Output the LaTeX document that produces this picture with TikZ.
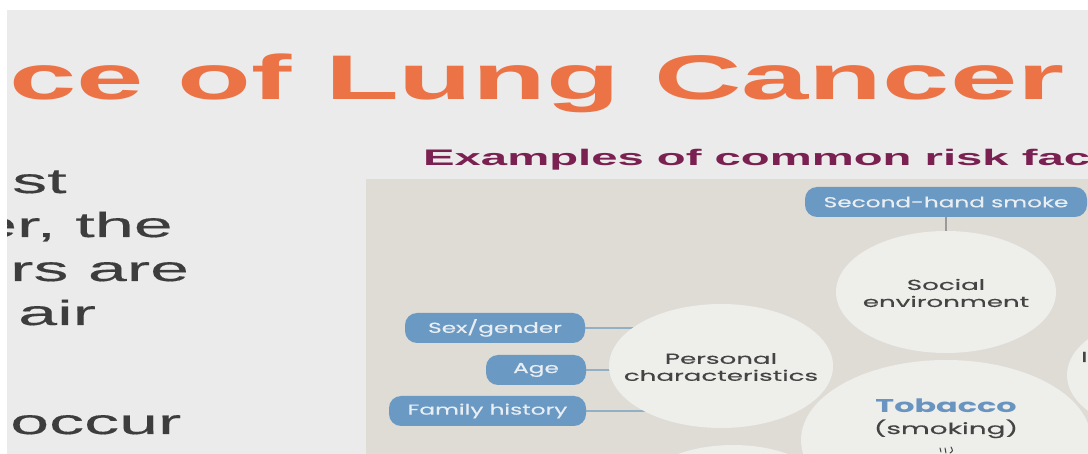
\documentclass[tikz,border=0pt]{standalone}
\usepackage{fontspec}
\setmainfont{Liberation Sans}
\newfontfamily\wideA[FakeStretch=1.92]{Liberation Sans}
\newfontfamily\wideB[FakeStretch=2.1]{Liberation Sans}
\newfontfamily\wideC[FakeStretch=2.0, FakeBold=0.3]{Liberation Sans}
\newfontfamily\diag[FakeStretch=1.8, FakeBold=0.4]{Poppins}
\newfontfamily\diagmed[FakeStretch=1.72]{Poppins}
\newfontfamily\diagpill[FakeStretch=1.6, FakeBold=0.3]{Poppins}
\usetikzlibrary{shapes.geometric}
\pgfdeclarelayer{back}
\pgfdeclarelayer{panel}
\pgfdeclarelayer{links}
\pgfsetlayers{back,panel,links,main}
\definecolor{bggrey}{HTML}{EBEBEB}
\definecolor{panelc}{HTML}{DFDCD5}
\definecolor{circfill}{HTML}{EEEEEB}
\definecolor{pillblue}{HTML}{6A9AC3}
\definecolor{pilltext}{HTML}{E9EEF3}
\definecolor{linkc}{HTML}{93AFC6}
\definecolor{vlinkc}{HTML}{9A9A9A}
\definecolor{titleorange}{HTML}{EC7346}
\definecolor{plum}{HTML}{7A2152}
\definecolor{darktext}{HTML}{3D3D3D}
\definecolor{circtext}{HTML}{444444}
\definecolor{tobblue}{HTML}{6994C0}
\tikzset{
  bodytext/.style={anchor=base west, inner sep=0, text=darktext, font=\wideC\fontsize{35}{35}\selectfont},
  pill/.style={rectangle, rounded corners=12pt, fill=pillblue, text=pilltext, font=\diagpill\fontsize{14.5}{14.5}\selectfont, minimum height=30pt, inner sep=0},
  blob/.style={ellipse, fill=circfill, inner sep=0},
  ctext/.style={align=center, inner sep=0, text=circtext, font=\diag\fontsize{14.5}{17}\selectfont},
  link/.style={draw=linkc, line width=1.2pt},
  vlink/.style={draw=vlinkc, line width=1.4pt},
  smokeline/.style={draw=circtext, line width=1pt, line cap=round}
}
\begin{document}
\begin{tikzpicture}[x=1pt,y=-1pt]
\useasboundingbox (0,0) rectangle (1088,454);
\begin{pgfonlayer}{back}
\fill[white] (0,0) rectangle (1088,454);
\fill[bggrey] (7,10) rectangle (1088,454);
\end{pgfonlayer}
\begin{scope}
\clip (7,10) rectangle (1088,454);
% title
\node[anchor=base west, inner sep=0, text=titleorange, font=\wideA\bfseries\fontsize{63}{63}\selectfont] (title) at (9,100) {ce of Lung Cancer};
% subtitle
\node[anchor=base west, inner sep=0, text=plum, font=\wideB\bfseries\fontsize{22.5}{22.5}\selectfont] (sub) at (423,166) {Examples of common risk fac};
% left text
\node[bodytext] (l1) at (12,193) {st};
\node[bodytext] (l2) at (-22,237) {er, the};
\node[bodytext] (l3) at (10,281) {rs are};
\node[bodytext] (l4) at (18,325) {air};
\node[bodytext] (l5) at (10,434) {occur};
\end{scope}
% panel
\begin{pgfonlayer}{panel}
\fill[panelc] (366,179) rectangle (1088,454);
\end{pgfonlayer}
% circles
\node[blob, minimum width=224pt, minimum height=124pt] (pc) at (721,366) {};
\node[blob, minimum width=220pt, minimum height=122pt] (soc) at (946,292) {};
\node[blob, minimum width=290pt, minimum height=160pt] (tob) at (946,440) {};
\node[blob, minimum width=220pt, minimum height=122pt] (rc) at (1177,375) {};
\node[blob, minimum width=200pt, minimum height=110pt] (bc) at (733,500) {};
% circle texts
\node[ctext] (pct) at (721,367) {Personal\\characteristics};
\node[ctext] (soct) at (946,293) {Social\\environment};
\node[anchor=base, inner sep=0, text=tobblue, font=\diagmed\bfseries\fontsize{18.5}{18.5}\selectfont] (tobt) at (946,413) {Tobacco};
\node[anchor=base, inner sep=0, text=circtext, font=\diag\fontsize{15.5}{15.5}\selectfont] (smk) at (946,434) {(smoking)};
\node[anchor=base west, inner sep=0, text=circtext, font=\diag\fontsize{14.5}{14.5}\selectfont] (rct) at (1081,362) {I};
% smoke marks of the icon below (smoking)
\coordinate (sm) at (946,451);
\draw[smokeline] ([xshift=-6pt,yshift=3pt]sm) -- ([xshift=-5pt,yshift=-1pt]sm);
\draw[smokeline] ([xshift=-1pt,yshift=3pt]sm) -- ([xshift=0pt,yshift=-2pt]sm);
\draw[smokeline] ([xshift=4pt,yshift=-2pt]sm) .. controls ([xshift=7pt,yshift=0pt]sm) .. ([xshift=5pt,yshift=4pt]sm);
% pills
\node[pill, minimum width=180pt] (sex) at (495,328) {Sex/gender};
\node[pill, minimum width=100pt] (age) at (536,370) {Age};
\node[pill, minimum width=197pt] (fam) at (487.5,411) {Family history};
\node[pill, minimum width=282pt] (shs) at (946,202) {Second-hand smoke};
% connectors
\begin{pgfonlayer}{links}
\draw[link] (sex.east) -- (sex.east -| pc.center);
\draw[link] (age.east) -- (age.east -| pc.center);
\draw[link] (fam.east) -- (fam.east -| pc.center);
\draw[vlink] (shs.south) -- (shs.south |- soc.center);
\end{pgfonlayer}
\end{tikzpicture}
\end{document}
